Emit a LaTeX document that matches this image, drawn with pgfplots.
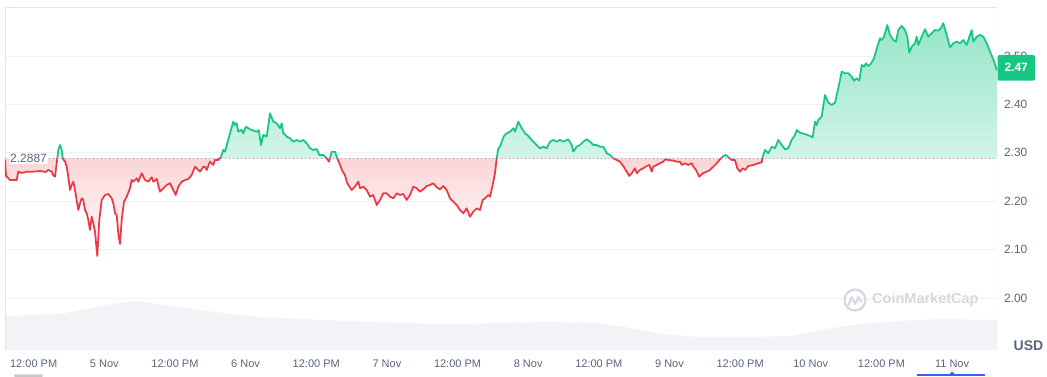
\documentclass[border=0pt]{standalone}
\usepackage{pgfplots}
\pgfplotsset{compat=1.18}
\usepackage{pgfplotstable}
\usepackage{fontspec}
\setmainfont{Liberation Sans}
\definecolor{cmcgreen}{HTML}{16C784}
\definecolor{cmcred}{HTML}{EA3943}
\definecolor{txtgrey}{HTML}{58667E}
\definecolor{gridc}{HTML}{EFF2F5}
\definecolor{framec}{HTML}{E3E7EC}
\definecolor{volc}{HTML}{F1F3F6}
\definecolor{wmark}{HTML}{D5D9DF}
\definecolor{cmcblue}{HTML}{3861FB}

% time in days from 5 Nov 00:00, price in USD
\pgfplotstableread{
x y
-0.7028 2.2851
-0.6957 2.2521
-0.6674 2.2438
-0.6553 2.2438
-0.6200 2.2438
-0.6086 2.2610
-0.5846 2.2583
-0.5492 2.2610
-0.5046 2.2610
-0.4551 2.2624
-0.4126 2.2603
-0.3984 2.2645
-0.3723 2.2610
-0.3631 2.2541
-0.3489 2.2506
-0.3369 2.2789
-0.3256 2.3058
-0.3135 2.3161
-0.3015 2.3058
-0.2944 2.2886
-0.2781 2.2816
-0.2661 2.2713
-0.2548 2.2506
-0.2427 2.2231
-0.2307 2.2335
-0.2194 2.2403
-0.2074 2.2231
-0.1840 2.1818
-0.1720 2.1957
-0.1599 2.2060
-0.1486 2.2025
-0.1366 2.1818
-0.1246 2.1750
-0.1132 2.1612
-0.1012 2.1405
-0.0892 2.1680
-0.0778 2.1543
-0.0658 2.1370
-0.0495 2.0868
-0.0354 2.1612
-0.0184 2.2025
0.0050 2.2128
0.0283 2.2149
0.0524 2.2060
0.0637 2.1957
0.0757 2.1750
0.0878 2.1715
0.0991 2.1337
0.1111 2.1116
0.1231 2.1612
0.1394 2.1990
0.1585 2.2093
0.1819 2.2267
0.1939 2.2438
0.2052 2.2403
0.2293 2.2473
0.2406 2.2403
0.2647 2.2576
0.2880 2.2438
0.3114 2.2403
0.3355 2.2494
0.3468 2.2403
0.3708 2.2459
0.3942 2.2196
0.4175 2.2267
0.4416 2.2335
0.4650 2.2370
0.4883 2.2231
0.5053 2.2128
0.5237 2.2300
0.5478 2.2403
0.5711 2.2438
0.5945 2.2459
0.6185 2.2541
0.6419 2.2713
0.6652 2.2645
0.6773 2.2610
0.7006 2.2713
0.7127 2.2713
0.7247 2.2645
0.7481 2.2816
0.7714 2.2748
0.7834 2.2851
0.8068 2.2851
0.8238 2.2907
0.8422 2.3058
0.8542 2.3023
0.8705 2.3196
0.8896 2.3403
0.9129 2.3643
0.9250 2.3574
0.9370 2.3610
0.9483 2.3436
0.9724 2.3471
0.9837 2.3403
1.0028 2.3539
1.0311 2.3486
1.0545 2.3457
1.0786 2.3436
1.0927 2.3471
1.1090 2.3161
1.1253 2.3368
1.1493 2.3333
1.1727 2.3816
1.1960 2.3643
1.2201 2.3610
1.2435 2.3506
1.2555 2.3610
1.2668 2.3403
1.2909 2.3333
1.3142 2.3300
1.3376 2.3229
1.3616 2.3265
1.3850 2.3229
1.4084 2.3265
1.4324 2.3196
1.4558 2.3093
1.4791 2.3058
1.5032 2.3079
1.5216 2.2955
1.5499 2.2955
1.5740 2.2886
1.5902 2.2816
1.6093 2.3023
1.6327 2.3023
1.6490 2.2886
1.6681 2.2748
1.6872 2.2610
1.7035 2.2541
1.7155 2.2403
1.7268 2.2335
1.7509 2.2231
1.7742 2.2300
1.7976 2.2403
1.8096 2.2267
1.8330 2.2300
1.8570 2.2231
1.8804 2.2093
1.9037 2.2128
1.9278 2.1921
1.9512 2.2025
1.9745 2.2163
1.9986 2.2163
2.0219 2.2093
2.0453 2.2060
2.0693 2.2163
2.0927 2.2128
2.1161 2.2149
2.1401 2.2025
2.1635 2.2128
2.1868 2.2300
2.2109 2.2267
2.2343 2.2196
2.2576 2.2246
2.2817 2.2314
2.3050 2.2335
2.3284 2.2370
2.3524 2.2287
2.3758 2.2246
2.3992 2.2314
2.4232 2.2231
2.4466 2.2060
2.4699 2.1990
2.4940 2.1921
2.5174 2.1818
2.5407 2.1750
2.5648 2.1853
2.5881 2.1680
2.6115 2.1783
2.6355 2.1853
2.6589 2.1818
2.6780 2.2025
2.6943 2.2060
2.7176 2.2128
2.7297 2.2093
2.7488 2.2335
2.7650 2.2576
2.7771 2.2886
2.7884 2.3093
2.8004 2.3126
2.8125 2.3229
2.8287 2.3347
2.8478 2.3403
2.8712 2.3436
2.8945 2.3506
2.9066 2.3436
2.9299 2.3643
2.9540 2.3506
2.9773 2.3403
3.0007 2.3347
3.0248 2.3265
3.0602 2.3161
3.0835 2.3093
3.1069 2.3126
3.1309 2.3093
3.1543 2.3229
3.1777 2.3265
3.2017 2.3229
3.2251 2.3265
3.2484 2.3229
3.2838 2.3279
3.3079 2.3161
3.3192 2.3023
3.3432 2.3126
3.3666 2.3161
3.3899 2.3229
3.4140 2.3279
3.4374 2.3229
3.4607 2.3161
3.4848 2.3161
3.5081 2.3126
3.5315 2.3126
3.5556 2.2990
3.5789 2.2955
3.6023 2.2886
3.6263 2.2851
3.6497 2.2816
3.6730 2.2727
3.6971 2.2610
3.7155 2.2521
3.7325 2.2576
3.7558 2.2680
3.7679 2.2576
3.7912 2.2645
3.8146 2.2680
3.8386 2.2727
3.8570 2.2748
3.8740 2.2610
3.8854 2.2713
3.9094 2.2748
3.9328 2.2783
3.9561 2.2816
3.9682 2.2866
3.9915 2.2851
4.0269 2.2837
4.0510 2.2816
4.0743 2.2816
4.0863 2.2748
4.1097 2.2783
4.1331 2.2748
4.1571 2.2783
4.1685 2.2713
4.1876 2.2645
4.2109 2.2506
4.2350 2.2576
4.2633 2.2610
4.2866 2.2645
4.3100 2.2713
4.3341 2.2783
4.3574 2.2866
4.3808 2.2934
4.3999 2.2955
4.4162 2.2907
4.4402 2.2851
4.4636 2.2851
4.4798 2.2680
4.4989 2.2610
4.5181 2.2680
4.5343 2.2645
4.5577 2.2727
4.5931 2.2748
4.6284 2.2783
4.6525 2.2804
4.6596 2.2919
4.6759 2.3058
4.6992 2.2990
4.7233 2.3126
4.7466 2.3093
4.7700 2.3265
4.7941 2.3161
4.8174 2.3072
4.8408 2.3093
4.8648 2.3265
4.8882 2.3368
4.9002 2.3471
4.9236 2.3415
4.9590 2.3388
4.9943 2.3347
5.0134 2.3320
5.0297 2.3643
5.0417 2.3574
5.0531 2.3678
5.0771 2.3746
5.1005 2.4194
5.1238 2.4035
5.1479 2.3988
5.1712 2.4035
5.1946 2.4333
5.2187 2.4676
5.2420 2.4643
5.2654 2.4643
5.2894 2.4572
5.3057 2.4490
5.3248 2.4539
5.3432 2.4490
5.3602 2.4814
5.3765 2.4779
5.3906 2.4849
5.4069 2.4793
5.4239 2.4835
5.4473 2.4953
5.4706 2.5192
5.4897 2.5366
5.5017 2.5331
5.5180 2.5399
5.5414 2.5640
5.5605 2.5434
5.5838 2.5331
5.6029 2.5295
5.6192 2.5537
5.6433 2.5620
5.6666 2.5537
5.6829 2.5399
5.6971 2.5068
5.7141 2.5192
5.7374 2.5262
5.7495 2.5399
5.7608 2.5227
5.7849 2.5399
5.8082 2.5552
5.8316 2.5399
5.8556 2.5469
5.8790 2.5537
5.9023 2.5523
5.9193 2.5572
5.9377 2.5676
5.9618 2.5434
5.9851 2.5180
6.0085 2.5262
6.0325 2.5295
6.0559 2.5262
6.0792 2.5331
6.1033 2.5227
6.1267 2.5434
6.1387 2.5537
6.1500 2.5295
6.1741 2.5399
6.1974 2.5434
6.2208 2.5399
6.2448 2.5262
6.2682 2.5089
6.2915 2.4932
6.3178 2.4700
}\pricedata

% volume (relative units)
\pgfplotstableread{
x v
-0.7028 69.4
-0.5258 71.4
-0.3135 73.5
-0.1720 81.6
-0.0304 89.8
0.1111 95.9
0.2173 100.0
0.3234 95.9
0.4650 89.8
0.6773 81.6
0.8896 73.5
1.1019 67.3
1.3850 63.3
1.7389 59.2
2.0927 55.1
2.4466 53.1
2.8004 55.1
3.1543 57.1
3.5081 55.1
3.7204 44.9
3.9328 32.7
4.2158 26.5
4.5697 26.5
4.8528 28.6
5.0651 40.8
5.3482 53.1
5.6313 59.2
5.9143 63.3
6.3178 61.2
}\voldata

\begin{document}
\begin{tikzpicture}

% volume
\begin{axis}[at={(5pt,27pt)}, anchor=south west, width=992pt, height=343pt,
  scale only axis, xmin=-0.7028, xmax=6.3178, ymin=0, ymax=700, hide axis]
\addplot[fill=volc, draw=none] table[x=x,y=v] {\voldata} \closedcycle;
\end{axis}

% price
\begin{axis}[at={(5pt,27pt)}, anchor=south west, width=992pt, height=343pt,
  scale only axis, xmin=-0.7028, xmax=6.3178, ymin=1.8926, ymax=2.6012,
  axis line style={draw=none}, tick style={draw=none}, major tick length=0pt,
  ytick={2.0,2.1,2.2,2.3,2.4,2.5},
  yticklabels={2.00,2.10,2.20,2.30,2.40,2.50},
  ytick pos=right, yticklabel pos=right,
  ymajorgrids, grid style={color=gridc, line width=0.9pt},
  xtick={-0.5,0,0.5,1,1.5,2,2.5,3,3.5,4,4.5,5,5.5,6},
  xticklabels={12:00 PM,5 Nov,12:00 PM,6 Nov,12:00 PM,7 Nov,12:00 PM,8 Nov,12:00 PM,9 Nov,12:00 PM,10 Nov,12:00 PM,11 Nov},
  xticklabel style={font=\fontsize{11}{13}\selectfont, text=txtgrey, yshift=-6pt},
  yticklabel style={font=\fontsize{12}{14}\selectfont, text=txtgrey, xshift=3.5pt},
]
\draw[framec, line width=0.9pt] (rel axis cs:0,0) -- (rel axis cs:0,1) -- (rel axis cs:1,1) -- (rel axis cs:1,0);
\begin{scope}
  \clip (axis cs:-1,2.2887) rectangle (axis cs:7,2.8);
  \addplot[top color=cmcgreen!45!white, bottom color=white, draw=none] table[x=x,y=y] {\pricedata}
    -- (axis cs:6.3178,2.2887) -- (axis cs:-0.7028,2.2887) -- cycle;
  \addplot[cmcgreen, line width=1.75pt, line join=round] table[x=x,y=y] {\pricedata};
\end{scope}
\begin{scope}
  \clip (axis cs:-1,1.5) rectangle (axis cs:7,2.2887);
  \addplot[top color=cmcred!50!white, bottom color=white, draw=none] table[x=x,y=y] {\pricedata}
    -- (axis cs:6.3178,2.2887) -- (axis cs:-0.7028,2.2887) -- cycle;
  \addplot[cmcred, line width=1.75pt, line join=round] table[x=x,y=y] {\pricedata};
\end{scope}
\draw[color=black!38, line width=0.7pt, dash pattern=on 1pt off 3pt] (axis cs:-0.7028,2.2887) -- (axis cs:6.3178,2.2887);
\end{axis}

% start price label
\node[anchor=west, fill=white, inner sep=1.2pt, text=txtgrey, font=\fontsize{12}{14}\selectfont] at (8.8pt,218.7pt) {2.2887};
% last price badge
\fill[cmcgreen, rounded corners=2pt] (997.5pt,296.3pt) rectangle (1035pt,322pt);
\node[text=white, font=\bfseries\fontsize{12}{14}\selectfont] at (1016.2pt,309.2pt) {2.47};
% USD
\node[text=txtgrey, font=\bfseries\fontsize{14}{16}\selectfont] at (1028.5pt,31pt) {USD};
% watermark
\draw[wmark, line width=2.2pt] (855pt,77pt) circle (10.5pt);
\draw[wmark, line width=2pt, line join=round, line cap=round] (848.5pt,72pt) -- (851.5pt,80pt) -- (855pt,73pt) -- (858.5pt,80pt) -- (861.5pt,75pt);
\node[anchor=west, text=wmark, font=\bfseries\fontsize{14.5}{16}\selectfont, inner sep=0pt] at (872pt,77pt) {CoinMarketCap};
% scrollbar decorations
\fill[black!22, rounded corners=1.2pt] (14pt,0pt) rectangle (43pt,2.5pt);
\draw[cmcblue, line width=1.4pt] (917pt,2pt) -- (985pt,2pt);
\fill[cmcblue] (948.5pt,2pt) -- (952pt,5.5pt) -- (955.5pt,2pt) -- cycle;
\pgfresetboundingbox
\path[use as bounding box] (0pt,0pt) rectangle (1047pt,377pt);
\end{tikzpicture}
\end{document}
